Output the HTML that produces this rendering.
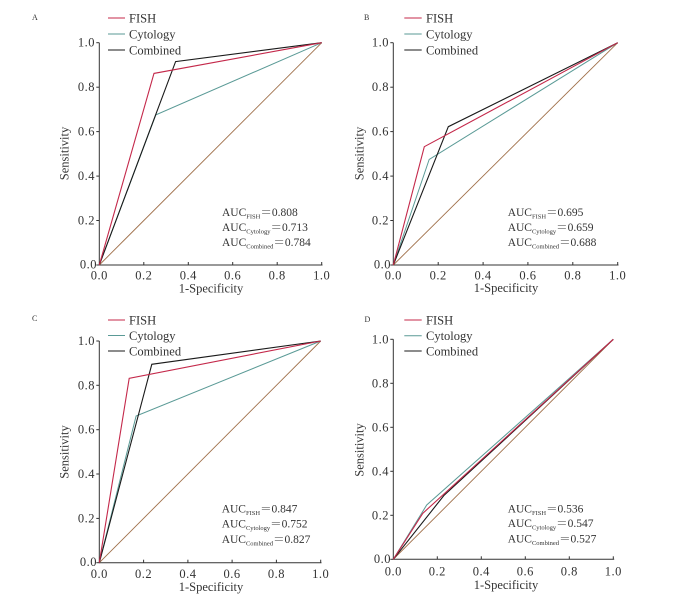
<!DOCTYPE html>
<html>
<head>
<meta charset="utf-8">
<style>
html,body{margin:0;padding:0;background:#fff;}
svg{display:block;}
text{font-family:"Liberation Serif","Noto Serif CJK SC",serif;fill:#333;}
.tk{font-size:12.5px;letter-spacing:0.5px;}
.lg{font-size:12.5px;}
.ti{font-size:12.5px;}
.auc{font-size:11.5px;}
.sub{font-size:6.5px;}
.pl{font-size:8px;}
.ax{stroke:#333;stroke-width:1;fill:none;}
.fish{stroke:#c4284a;stroke-width:1.1;fill:none;}
.cyto{stroke:#5a9a96;stroke-width:1;fill:none;}
.comb{stroke:#1a1a1a;stroke-width:1.1;fill:none;}
.diag{stroke:#a0704a;stroke-width:0.9;fill:none;}
</style>
</head>
<body>
<svg width="700" height="610" viewBox="0 0 700 610" xmlns="http://www.w3.org/2000/svg">

<!-- ============ PANEL A ============ -->
<text class="pl" x="32" y="20">A</text>
<line class="fish" x1="108" y1="18" x2="125" y2="18"/>
<text class="lg" x="129" y="22.5">FISH</text>
<line class="cyto" x1="108" y1="34" x2="125" y2="34"/>
<text class="lg" x="129" y="38.5">Cytology</text>
<line class="comb" x1="108" y1="50" x2="125" y2="50"/>
<text class="lg" x="129" y="54.5">Combined</text>
<polyline class="ax" points="99.3,42.7 99.3,265 322.5,265"/>
<g class="ax">
<line x1="96.3" y1="265" x2="99.3" y2="265"/>
<line x1="96.3" y1="220.5" x2="99.3" y2="220.5"/>
<line x1="96.3" y1="176.1" x2="99.3" y2="176.1"/>
<line x1="96.3" y1="131.6" x2="99.3" y2="131.6"/>
<line x1="96.3" y1="87.2" x2="99.3" y2="87.2"/>
<line x1="96.3" y1="42.7" x2="99.3" y2="42.7"/>
<line x1="143.8" y1="265" x2="143.8" y2="262"/>
<line x1="188.3" y1="265" x2="188.3" y2="262"/>
<line x1="232.7" y1="265" x2="232.7" y2="262"/>
<line x1="277.2" y1="265" x2="277.2" y2="262"/>
<line x1="321.7" y1="265" x2="321.7" y2="262"/>
</g>
<g class="tk" text-anchor="end">
<text x="97" y="268.5">0.0</text>
<text x="95" y="224.5">0.2</text>
<text x="95" y="180.1">0.4</text>
<text x="95" y="135.6">0.6</text>
<text x="95" y="91.2">0.8</text>
<text x="95" y="46.7">1.0</text>
</g>
<g class="tk" text-anchor="middle">
<text x="99.3" y="279.5">0.0</text>
<text x="143.8" y="279.5">0.2</text>
<text x="188.3" y="279.5">0.4</text>
<text x="232.7" y="279.5">0.6</text>
<text x="277.2" y="279.5">0.8</text>
<text x="321.7" y="279.5">1.0</text>
</g>
<text class="ti" x="211" y="292.5" text-anchor="middle">1-Specificity</text>
<text class="ti" transform="translate(68.5,153.5) rotate(-90)" text-anchor="middle">Sensitivity</text>
<line class="diag" x1="99.3" y1="265" x2="321.7" y2="42.7"/>
<polyline class="cyto" points="99.3,265 155.8,114.9 321.7,42.7"/>
<polyline class="comb" points="99.3,265 175.6,61.6 321.7,42.7"/>
<polyline class="fish" points="99.3,265 154.0,73.4 321.7,42.7"/>
<text class="auc" x="222" y="216">AUC<tspan class="sub" dy="2.5">FISH</tspan><tspan dy="-2.5">＝0.808</tspan></text>
<text class="auc" x="222" y="231">AUC<tspan class="sub" dy="2.5">Cytology</tspan><tspan dy="-2.5">＝0.713</tspan></text>
<text class="auc" x="222" y="246">AUC<tspan class="sub" dy="2.5">Combined</tspan><tspan dy="-2.5">＝0.784</tspan></text>

<!-- ============ PANEL B ============ -->
<text class="pl" x="364" y="20">B</text>
<line class="fish" x1="404.3" y1="18" x2="421.7" y2="18"/>
<text class="lg" x="426" y="22.5">FISH</text>
<line class="cyto" x1="404.3" y1="34" x2="421.7" y2="34"/>
<text class="lg" x="426" y="38.5">Cytology</text>
<line class="comb" x1="404.3" y1="50" x2="421.7" y2="50"/>
<text class="lg" x="426" y="54.5">Combined</text>
<polyline class="ax" points="393.3,42.7 393.3,265 618.5,265"/>
<g class="ax">
<line x1="390.3" y1="265" x2="393.3" y2="265"/>
<line x1="390.3" y1="220.5" x2="393.3" y2="220.5"/>
<line x1="390.3" y1="176.1" x2="393.3" y2="176.1"/>
<line x1="390.3" y1="131.6" x2="393.3" y2="131.6"/>
<line x1="390.3" y1="87.2" x2="393.3" y2="87.2"/>
<line x1="390.3" y1="42.7" x2="393.3" y2="42.7"/>
<line x1="438.2" y1="265" x2="438.2" y2="262"/>
<line x1="483.1" y1="265" x2="483.1" y2="262"/>
<line x1="527.9" y1="265" x2="527.9" y2="262"/>
<line x1="572.8" y1="265" x2="572.8" y2="262"/>
<line x1="617.7" y1="265" x2="617.7" y2="262"/>
</g>
<g class="tk" text-anchor="end">
<text x="391" y="268.5">0.0</text>
<text x="389" y="224.5">0.2</text>
<text x="389" y="180.1">0.4</text>
<text x="389" y="135.6">0.6</text>
<text x="389" y="91.2">0.8</text>
<text x="389" y="46.7">1.0</text>
</g>
<g class="tk" text-anchor="middle">
<text x="393.3" y="279.5">0.0</text>
<text x="438.2" y="279.5">0.2</text>
<text x="483.1" y="279.5">0.4</text>
<text x="527.9" y="279.5">0.6</text>
<text x="572.8" y="279.5">0.8</text>
<text x="617.7" y="279.5">1.0</text>
</g>
<text class="ti" x="506" y="292" text-anchor="middle">1-Specificity</text>
<text class="ti" transform="translate(363.3,153.5) rotate(-90)" text-anchor="middle">Sensitivity</text>
<line class="diag" x1="393.3" y1="265" x2="617.7" y2="42.7"/>
<polyline class="cyto" points="393.3,265 429.2,159.4 617.7,42.7"/>
<polyline class="comb" points="393.3,265 448.3,126.7 617.7,42.7"/>
<polyline class="fish" points="393.3,265 424.3,146.7 617.7,42.7"/>
<text class="auc" x="507.7" y="216">AUC<tspan class="sub" dy="2.5">FISH</tspan><tspan dy="-2.5">＝0.695</tspan></text>
<text class="auc" x="507.7" y="231">AUC<tspan class="sub" dy="2.5">Cytology</tspan><tspan dy="-2.5">＝0.659</tspan></text>
<text class="auc" x="507.7" y="246">AUC<tspan class="sub" dy="2.5">Combined</tspan><tspan dy="-2.5">＝0.688</tspan></text>

<!-- ============ PANEL C ============ -->
<text class="pl" x="32" y="321">C</text>
<line class="fish" x1="108" y1="320" x2="125" y2="320"/>
<text class="lg" x="129" y="324.5">FISH</text>
<line class="cyto" x1="108" y1="335.5" x2="125" y2="335.5"/>
<text class="lg" x="129" y="340">Cytology</text>
<line class="comb" x1="108" y1="351" x2="125" y2="351"/>
<text class="lg" x="129" y="355.5">Combined</text>
<polyline class="ax" points="99.3,341 99.3,562.7 321.5,562.7"/>
<g class="ax">
<line x1="96.3" y1="562.7" x2="99.3" y2="562.7"/>
<line x1="96.3" y1="518.4" x2="99.3" y2="518.4"/>
<line x1="96.3" y1="474.0" x2="99.3" y2="474.0"/>
<line x1="96.3" y1="429.7" x2="99.3" y2="429.7"/>
<line x1="96.3" y1="385.3" x2="99.3" y2="385.3"/>
<line x1="96.3" y1="341" x2="99.3" y2="341"/>
<line x1="143.6" y1="562.7" x2="143.6" y2="559.7"/>
<line x1="187.9" y1="562.7" x2="187.9" y2="559.7"/>
<line x1="232.1" y1="562.7" x2="232.1" y2="559.7"/>
<line x1="276.4" y1="562.7" x2="276.4" y2="559.7"/>
<line x1="320.7" y1="562.7" x2="320.7" y2="559.7"/>
</g>
<g class="tk" text-anchor="end">
<text x="97" y="566.2">0.0</text>
<text x="95" y="522.4">0.2</text>
<text x="95" y="478.0">0.4</text>
<text x="95" y="433.7">0.6</text>
<text x="95" y="389.3">0.8</text>
<text x="95" y="345">1.0</text>
</g>
<g class="tk" text-anchor="middle">
<text x="99.3" y="578.2">0.0</text>
<text x="143.6" y="578.2">0.2</text>
<text x="187.9" y="578.2">0.4</text>
<text x="232.1" y="578.2">0.6</text>
<text x="276.4" y="578.2">0.8</text>
<text x="320.7" y="578.2">1.0</text>
</g>
<text class="ti" x="211" y="591" text-anchor="middle">1-Specificity</text>
<text class="ti" transform="translate(68.5,452) rotate(-90)" text-anchor="middle">Sensitivity</text>
<line class="diag" x1="99.3" y1="562.7" x2="320.7" y2="341"/>
<polyline class="cyto" points="99.3,562.7 136.1,416.0 320.7,341"/>
<polyline class="comb" points="99.3,562.7 151.8,364.3 320.7,341"/>
<polyline class="fish" points="99.3,562.7 129.2,378.3 320.7,341"/>
<text class="auc" x="221.7" y="512.5">AUC<tspan class="sub" dy="2.5">FISH</tspan><tspan dy="-2.5">＝0.847</tspan></text>
<text class="auc" x="221.7" y="527.5">AUC<tspan class="sub" dy="2.5">Cytology</tspan><tspan dy="-2.5">＝0.752</tspan></text>
<text class="auc" x="221.7" y="543">AUC<tspan class="sub" dy="2.5">Combined</tspan><tspan dy="-2.5">＝0.827</tspan></text>

<!-- ============ PANEL D ============ -->
<text class="pl" x="364.5" y="322">D</text>
<line class="fish" x1="404.3" y1="320" x2="421.7" y2="320"/>
<text class="lg" x="426" y="324.5">FISH</text>
<line class="cyto" x1="404.3" y1="335.7" x2="421.7" y2="335.7"/>
<text class="lg" x="426" y="340.2">Cytology</text>
<line class="comb" x1="404.3" y1="351" x2="421.7" y2="351"/>
<text class="lg" x="426" y="355.5">Combined</text>
<polyline class="ax" points="393.3,339.3 393.3,559.3 614.2,559.3"/>
<g class="ax">
<line x1="390.3" y1="559.3" x2="393.3" y2="559.3"/>
<line x1="390.3" y1="515.3" x2="393.3" y2="515.3"/>
<line x1="390.3" y1="471.3" x2="393.3" y2="471.3"/>
<line x1="390.3" y1="427.3" x2="393.3" y2="427.3"/>
<line x1="390.3" y1="383.3" x2="393.3" y2="383.3"/>
<line x1="390.3" y1="339.3" x2="393.3" y2="339.3"/>
<line x1="437.3" y1="559.3" x2="437.3" y2="556.3"/>
<line x1="481.3" y1="559.3" x2="481.3" y2="556.3"/>
<line x1="525.3" y1="559.3" x2="525.3" y2="556.3"/>
<line x1="569.3" y1="559.3" x2="569.3" y2="556.3"/>
<line x1="613.3" y1="559.3" x2="613.3" y2="556.3"/>
</g>
<g class="tk" text-anchor="end">
<text x="391" y="562.8">0.0</text>
<text x="389" y="519.3">0.2</text>
<text x="389" y="475.3">0.4</text>
<text x="389" y="431.3">0.6</text>
<text x="389" y="387.3">0.8</text>
<text x="389" y="343.3">1.0</text>
</g>
<g class="tk" text-anchor="middle">
<text x="393.3" y="575.7">0.0</text>
<text x="437.3" y="575.7">0.2</text>
<text x="481.3" y="575.7">0.4</text>
<text x="525.3" y="575.7">0.6</text>
<text x="569.3" y="575.7">0.8</text>
<text x="613.3" y="575.7">1.0</text>
</g>
<text class="ti" x="506" y="589" text-anchor="middle">1-Specificity</text>
<text class="ti" transform="translate(363.3,450) rotate(-90)" text-anchor="middle">Sensitivity</text>
<line class="diag" x1="393.3" y1="559.3" x2="613.3" y2="339.3"/>
<polyline class="cyto" points="393.3,559.3 426.7,505.0 613.3,339.3"/>
<polyline class="comb" points="393.3,559.3 443.9,495.5 613.3,339.3"/>
<polyline class="fish" points="393.3,559.3 422.8,513.3 613.3,339.3"/>
<text class="auc" x="507.7" y="512.5">AUC<tspan class="sub" dy="2.5">FISH</tspan><tspan dy="-2.5">＝0.536</tspan></text>
<text class="auc" x="507.7" y="527">AUC<tspan class="sub" dy="2.5">Cytology</tspan><tspan dy="-2.5">＝0.547</tspan></text>
<text class="auc" x="507.7" y="542.5">AUC<tspan class="sub" dy="2.5">Combined</tspan><tspan dy="-2.5">＝0.527</tspan></text>

</svg>
</body>
</html>
